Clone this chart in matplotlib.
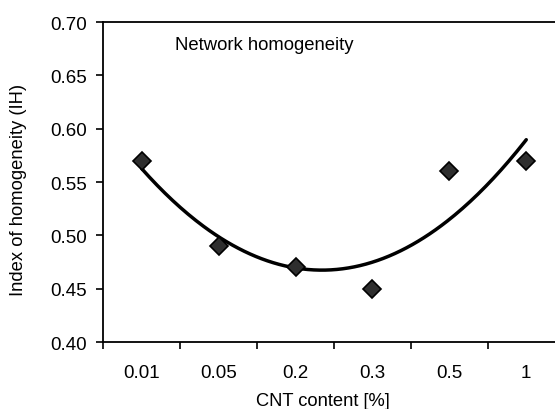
import numpy as np
import matplotlib.pyplot as plt

plt.rcParams['font.family'] = ['Liberation Sans', 'DejaVu Sans']

# data
cnt_labels = ['0.01', '0.05', '0.2', '0.3', '0.5', '1']
homogeneity = [0.57, 0.49, 0.47, 0.45, 0.56, 0.57]

pos = np.arange(1, len(cnt_labels) + 1)

# second order polynomial trend line (as in the original spreadsheet chart)
coef = np.polyfit(pos, homogeneity, 2)
xs = np.linspace(pos[0], pos[-1], 200)
trend = np.polyval(coef, xs)

fig = plt.figure(figsize=(5.55, 4.10), dpi=100)
ax = fig.add_axes([0.1861, 0.1634, 0.8314, 0.7805])

ax.plot(xs, trend, color='black', lw=2.5, zorder=2, solid_capstyle='round')
ax.plot(pos, homogeneity, linestyle='none', marker='D', markersize=9.3,
        markerfacecolor='#2e2e2e', markeredgecolor='black', markeredgewidth=1.2,
        zorder=3)

ax.set_xlim(0.5, len(cnt_labels) + 0.5)
ax.set_ylim(0.40, 0.70)
ax.set_yticks(np.arange(0.40, 0.701, 0.05))
ax.set_yticklabels(['%.2f' % v for v in np.arange(0.40, 0.701, 0.05)])

# category labels centred, tick marks on the category boundaries
ax.set_xticks(np.arange(0.5, len(cnt_labels) + 1, 1.0))
ax.set_xticklabels([])
ax.set_xticks(pos, minor=True)
ax.set_xticklabels(cnt_labels, minor=True)
ax.tick_params(axis='x', which='major', direction='out', length=5, width=1.2)
ax.tick_params(axis='x', which='minor', length=0, pad=16, labelsize=13.5)
ax.tick_params(axis='y', direction='out', length=5, width=1.2, pad=7, labelsize=13.5)

for side in ['left', 'bottom', 'top']:
    ax.spines[side].set_linewidth(1.3)
    ax.spines[side].set_color('black')
ax.spines['right'].set_visible(False)

ax.set_xlabel('CNT content [%]', fontsize=13.2)
ax.xaxis.set_label_coords(0.476, -0.184)
ax.xaxis.label.set_va('center')
ax.set_ylabel('Index of homogeneity (IH)', fontsize=13.2)
ax.yaxis.set_label_coords(-0.183, 0.478)
ax.yaxis.label.set_va('center')

ax.text(0.155, 0.93, 'Network homogeneity', transform=ax.transAxes,
        fontsize=13.3, va='center', ha='left')

fig.savefig('out.png', dpi=100)
